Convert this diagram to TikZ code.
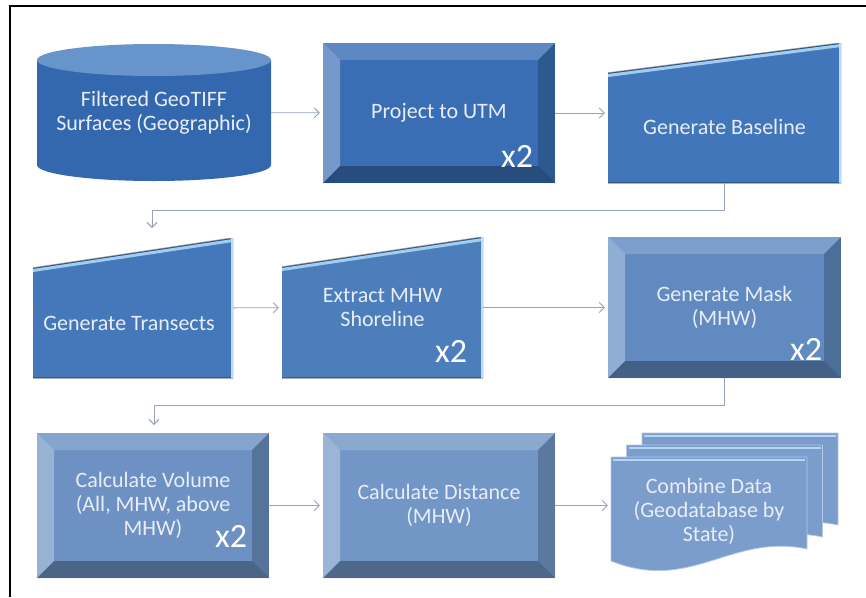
\documentclass[tikz,border=0pt]{standalone}
\usepackage{fontspec}
\setmainfont{Carlito}
\usetikzlibrary{arrows.meta}

\definecolor{cylbody}{RGB}{52,104,174}
\definecolor{cyltop}{RGB}{104,148,204}
\definecolor{rowa}{RGB}{58,110,180}
\definecolor{rowab}{RGB}{66,118,186}
\definecolor{rowba}{RGB}{68,120,186}
\definecolor{rowbb}{RGB}{76,126,188}
\definecolor{rowbc}{RGB}{96,138,192}
\definecolor{rowca}{RGB}{108,145,194}
\definecolor{rowcb}{RGB}{114,150,198}
\definecolor{rowcc}{RGB}{122,157,204}
\definecolor{hilite}{RGB}{160,205,240}
\definecolor{txtcol}{RGB}{232,237,247}
\definecolor{linkcol}{RGB}{150,164,186}

\tikzset{
  txt/.style={text=txtcol, align=center, font=\fontsize{22}{24}\selectfont},
  xtwo/.style={anchor=base east, inner sep=0pt, text=white, font=\fontsize{34}{38}\selectfont},
  link/.style={draw=linkcol, line width=.9pt, shorten >=3pt, -{Straight Barb[length=5pt,width=10pt]}},
  bevel/.style={txt, fill=#1, minimum width=232pt, minimum height=140pt, path picture={
    \path (path picture bounding box.north west) coordinate (nw)
          (path picture bounding box.north east) coordinate (ne)
          (path picture bounding box.south west) coordinate (sw)
          (path picture bounding box.south east) coordinate (se);
    \fill[white,opacity=.18] (nw) -- (ne) -- ([shift={(-17pt,-17pt)}]ne) -- ([shift={(17pt,-17pt)}]nw) -- cycle;
    \fill[white,opacity=.3] (nw) -- ([shift={(17pt,-17pt)}]nw) -- ([shift={(17pt,17pt)}]sw) -- (sw) -- cycle;
    \fill[black,opacity=.3] (sw) -- ([shift={(17pt,17pt)}]sw) -- ([shift={(-17pt,17pt)}]se) -- (se) -- cycle;
    \fill[black,opacity=.2] (se) -- ([shift={(-17pt,17pt)}]se) -- ([shift={(-17pt,-17pt)}]ne) -- (ne) -- cycle;
  }},
  manual/.style={txt, fill=white, path picture={
    \path (path picture bounding box.north west) coordinate (nw)
          (path picture bounding box.north east) coordinate (ne)
          (path picture bounding box.south west) coordinate (sw)
          (path picture bounding box.south east) coordinate (se);
    \fill[#1] (sw) -- (se) -- (ne) -- ([yshift=-30pt]nw) -- cycle;
    \draw[black,opacity=.25,line width=2pt] (sw) -- (se) -- (ne);
    \draw[hilite,line width=3pt] ([yshift=-32.5pt]nw) -- ([yshift=-2.5pt]ne);
    \draw[black,opacity=.35,line width=1.4pt] ([yshift=-30pt]nw) -- (ne);
    \draw[hilite!70!white,line width=1.5pt] ([xshift=-1pt]ne) -- ([xshift=-1pt]se);
  }},
  cyl/.style={txt, fill=white, minimum width=234pt, minimum height=137pt, path picture={
    \fill[cylbody] ([yshift=-16pt]path picture bounding box.north west)
      -- ([yshift=16pt]path picture bounding box.south west)
      arc[start angle=180, end angle=360, x radius=117pt, y radius=16pt]
      -- ([yshift=-16pt]path picture bounding box.north east) -- cycle;
    \fill[cyltop] ([yshift=-16pt]path picture bounding box.north) ellipse[x radius=117pt, y radius=16pt];
  }},
  sheet/.style={fill=rowcc, draw=rowcc!55!white, line width=.8pt}
}

\begin{document}
\begin{tikzpicture}[x=1pt,y=-1pt]
  \useasboundingbox[fill=white] (0,0) rectangle (866,597);
  \draw[line width=1.3pt] (10,597) -- (10,6) -- (866,6);

  % first row
  \node[cyl] (src) at (154,112.5) {Filtered GeoTIFF\\Surfaces (Geographic)};
  \node[bevel=rowa, label={[xtwo,xshift=-22pt,yshift=16pt]south east:x2}] (utm) at (439,113) {Project to UTM};
  \node[manual=rowab, minimum width=233pt, minimum height=140pt,
        label={[txt,yshift=-14pt]center:Generate Baseline}] (baseline) at (724.5,113) {};

  % second row
  \node[manual=rowba, minimum width=200pt, minimum height=140pt,
        label={[txt,xshift=-4pt,yshift=-15pt]center:Generate Transects}] (transects) at (133,308) {};
  \node[manual=rowbb, minimum width=201pt, minimum height=141pt,
        label={[xtwo,xshift=-16pt,yshift=16pt]south east:x2}] (shoreline) at (382.5,307.5) {Extract MHW\\Shoreline};
  \node[bevel=rowbc, minimum width=233pt, minimum height=141pt,
        label={[xtwo,xshift=-19pt,yshift=18pt]south east:x2}] (mask) at (724.5,307.5) {Generate Mask\\(MHW)};

  % third row
  \node[bevel=rowca, minimum height=145pt,
        label={[xtwo,xshift=-22pt,yshift=31pt]south east:x2}] (volume) at (153,505.5) {Calculate Volume\\(All, MHW, above\\MHW)};
  \node[bevel=rowcb, minimum height=145pt] (distance) at (439,505.5) {Calculate Distance\\(MHW)};
  \foreach \d in {2,1,0}{
    \filldraw[sheet, shift={(611+15.5*\d,433-12*\d)}]
      (0,24) -- (196,24) -- (196,116) .. controls (120,100) and (80,160) .. (0,128) -- cycle;
    \draw[hilite!80!white, line width=2pt, shift={(611+15.5*\d,433-12*\d)}] (2,26.5) -- (194,26.5);
  }
  \node[minimum width=227pt, minimum height=147pt,
        label={[txt,xshift=-15.5pt,yshift=-6pt]center:{Combine Data\\(Geodatabase by\\State)}}] (combine) at (724.5,505.5) {};

  \coordinate (in2) at (152,231);
  \coordinate (in3) at (154,428);

  \draw[link] (src) -- (utm);
  \draw[link] (utm) -- (baseline);
  \draw[link] (baseline.south) -- ++(0,27) -| (in2);
  \draw[link] (transects) -- (shoreline);
  \draw[link] (shoreline) -- (mask);
  \draw[link] (mask.south) -- ++(0,27) -| (in3);
  \draw[link] (volume) -- (distance);
  \draw[link] (distance) -- (combine);
\end{tikzpicture}
\end{document}
